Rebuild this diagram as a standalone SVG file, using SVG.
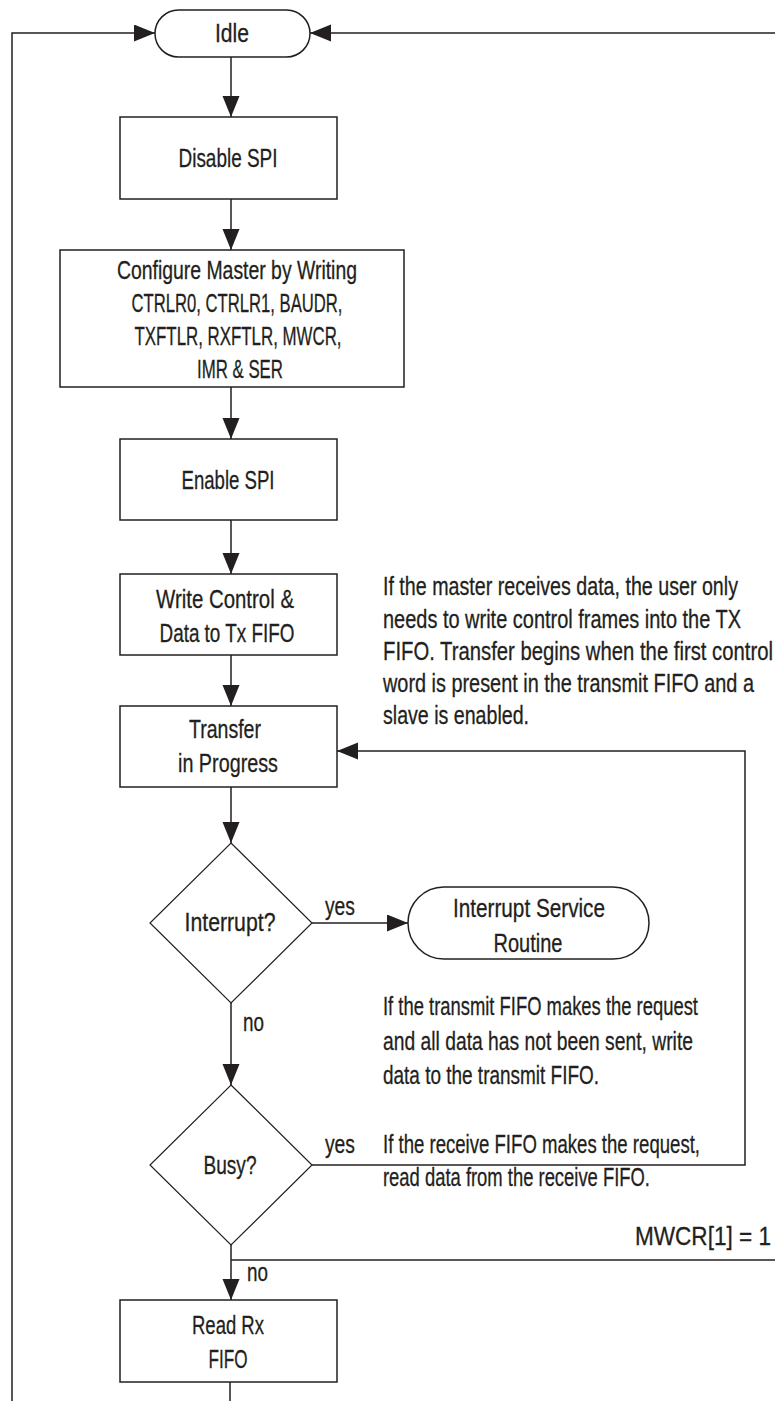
<svg xmlns="http://www.w3.org/2000/svg" width="775" height="1401" viewBox="0 0 775 1401">
<style>
.box{fill:#fff;stroke:#231f20;stroke-width:1.5}
.dia{fill:#fff;stroke:#231f20;stroke-width:1.2}
.ln{fill:none;stroke:#231f20;stroke-width:1.5}
.t{font-family:"Liberation Sans",Arial,sans-serif;font-size:26px;fill:#231f20;stroke:#231f20;stroke-width:0.3;text-anchor:middle}
.n{font-family:"Liberation Sans",Arial,sans-serif;font-size:26px;fill:#231f20;stroke:#231f20;stroke-width:0.3;text-anchor:start}
</style>
<defs>
<marker id="ah" markerUnits="userSpaceOnUse" markerWidth="22" markerHeight="18" refX="21" refY="8.5" orient="auto">
<path d="M0,0 L21,8.5 L0,17 z" fill="#231f20"/>
</marker>
</defs>
<rect width="775" height="1401" fill="#fff"/>
<g id="connectors">
<path class="ln" d="M12,1401 V33 H155" marker-end="url(#ah)"/>
<path class="ln" d="M775,33 H310" marker-end="url(#ah)"/>
<path class="ln" d="M231,57 V117" marker-end="url(#ah)"/>
<path class="ln" d="M231,199 V250" marker-end="url(#ah)"/>
<path class="ln" d="M231,387 V439" marker-end="url(#ah)"/>
<path class="ln" d="M231,520 V574" marker-end="url(#ah)"/>
<path class="ln" d="M231,655 V706" marker-end="url(#ah)"/>
<path class="ln" d="M231,787 V843" marker-end="url(#ah)"/>
<path class="ln" d="M312,923 H408" marker-end="url(#ah)"/>
<path class="ln" d="M231,1003 V1085" marker-end="url(#ah)"/>
<path class="ln" d="M312,1165 H745 V751 H337" marker-end="url(#ah)"/>
<path class="ln" d="M231,1245 V1300" marker-end="url(#ah)"/>
<path class="ln" d="M231,1260 H775"/>
<path class="ln" d="M230,1382 V1401"/>
</g>
<g id="idle">
<rect class="box" x="155" y="10" width="155" height="47" rx="23.5"/>
<text class="t" transform="scale(0.75,1)" x="309.33" y="42" textLength="45.33" lengthAdjust="spacingAndGlyphs">Idle</text>
</g>
<g id="disable-spi">
<rect class="box" x="120" y="117" width="217" height="82"/>
<text class="t" transform="scale(0.75,1)" x="304" y="167" textLength="132" lengthAdjust="spacingAndGlyphs">Disable SPI</text>
</g>
<g id="configure">
<rect class="box" x="60" y="250" width="344" height="137"/>
<text class="t" transform="scale(0.75,1)" x="316" y="279" textLength="320" lengthAdjust="spacingAndGlyphs">Configure Master by Writing</text>
<text class="t" transform="scale(0.75,1)" x="316" y="312" textLength="281.33" lengthAdjust="spacingAndGlyphs">CTRLR0, CTRLR1, BAUDR,</text>
<text class="t" transform="scale(0.75,1)" x="317.33" y="345" textLength="276" lengthAdjust="spacingAndGlyphs">TXFTLR, RXFTLR, MWCR,</text>
<text class="t" transform="scale(0.75,1)" x="320" y="378" textLength="114.67" lengthAdjust="spacingAndGlyphs">IMR &amp; SER</text>
</g>
<g id="enable-spi">
<rect class="box" x="120" y="439" width="217" height="81"/>
<text class="t" transform="scale(0.75,1)" x="304" y="489" textLength="124" lengthAdjust="spacingAndGlyphs">Enable SPI</text>
</g>
<g id="write-control">
<rect class="box" x="120" y="574" width="217" height="81"/>
<text class="t" transform="scale(0.75,1)" x="300" y="608" textLength="184" lengthAdjust="spacingAndGlyphs">Write Control &amp;</text>
<text class="t" transform="scale(0.75,1)" x="302.67" y="642" textLength="180" lengthAdjust="spacingAndGlyphs">Data to Tx FIFO</text>
</g>
<g id="transfer">
<rect class="box" x="120" y="706" width="217" height="81"/>
<text class="t" transform="scale(0.75,1)" x="300" y="738" textLength="96" lengthAdjust="spacingAndGlyphs">Transfer</text>
<text class="t" transform="scale(0.75,1)" x="304" y="772" textLength="133.33" lengthAdjust="spacingAndGlyphs">in Progress</text>
</g>
<g id="interrupt">
<polygon class="dia" points="231,843 312,923 231,1003 150,923"/>
<text class="t" transform="scale(0.75,1)" x="306.67" y="931" textLength="121.33" lengthAdjust="spacingAndGlyphs">Interrupt?</text>
</g>
<g id="isr">
<rect class="box" x="408" y="887" width="241" height="72" rx="36"/>
<text class="t" transform="scale(0.75,1)" x="705.33" y="917" textLength="202.67" lengthAdjust="spacingAndGlyphs">Interrupt Service</text>
<text class="t" transform="scale(0.75,1)" x="704" y="952" textLength="92" lengthAdjust="spacingAndGlyphs">Routine</text>
</g>
<g id="busy">
<polygon class="dia" points="231,1085 312,1165 231,1245 150,1165"/>
<text class="t" transform="scale(0.75,1)" x="306.67" y="1174" textLength="70.67" lengthAdjust="spacingAndGlyphs">Busy?</text>
</g>
<g id="read-rx">
<rect class="box" x="120" y="1300" width="217" height="82"/>
<text class="t" transform="scale(0.75,1)" x="304" y="1334" textLength="96" lengthAdjust="spacingAndGlyphs">Read Rx</text>
<text class="t" transform="scale(0.75,1)" x="304" y="1368" textLength="52" lengthAdjust="spacingAndGlyphs">FIFO</text>
</g>
<g id="labels">
<text class="n" transform="scale(0.75,1)" x="433.33" y="915" textLength="40" lengthAdjust="spacingAndGlyphs">yes</text>
<text class="n" transform="scale(0.75,1)" x="324" y="1031" textLength="28" lengthAdjust="spacingAndGlyphs">no</text>
<text class="n" transform="scale(0.75,1)" x="433.33" y="1153" textLength="40" lengthAdjust="spacingAndGlyphs">yes</text>
<text class="n" transform="scale(0.75,1)" x="329.33" y="1281" textLength="28" lengthAdjust="spacingAndGlyphs">no</text>
<text class="n" transform="scale(0.75,1)" x="846.67" y="1245" textLength="181.33" lengthAdjust="spacingAndGlyphs">MWCR[1] = 1</text>
</g>
<g id="note-master">
<text class="n" transform="scale(0.75,1)" x="510.67" y="595" textLength="473.33" lengthAdjust="spacingAndGlyphs">If the master receives data, the user only</text>
<text class="n" transform="scale(0.75,1)" x="510.67" y="628" textLength="477.33" lengthAdjust="spacingAndGlyphs">needs to write control frames into the TX</text>
<text class="n" transform="scale(0.75,1)" x="510.67" y="660" textLength="520" lengthAdjust="spacingAndGlyphs">FIFO. Transfer begins when the first control</text>
<text class="n" transform="scale(0.75,1)" x="510.67" y="692" textLength="494.67" lengthAdjust="spacingAndGlyphs">word is present in the transmit FIFO and a</text>
<text class="n" transform="scale(0.75,1)" x="510.67" y="724" textLength="194.67" lengthAdjust="spacingAndGlyphs">slave is enabled.</text>
</g>
<g id="note-transmit">
<text class="n" transform="scale(0.75,1)" x="510.67" y="1015" textLength="420" lengthAdjust="spacingAndGlyphs">If the transmit FIFO makes the request</text>
<text class="n" transform="scale(0.75,1)" x="510.67" y="1050" textLength="413.33" lengthAdjust="spacingAndGlyphs">and all data has not been sent, write</text>
<text class="n" transform="scale(0.75,1)" x="510.67" y="1084" textLength="288" lengthAdjust="spacingAndGlyphs">data to the transmit FIFO.</text>
</g>
<g id="note-receive">
<text class="n" transform="scale(0.75,1)" x="510.67" y="1153" textLength="422.67" lengthAdjust="spacingAndGlyphs">If the receive FIFO makes the request,</text>
<text class="n" transform="scale(0.75,1)" x="510.67" y="1186" textLength="356" lengthAdjust="spacingAndGlyphs">read data from the receive FIFO.</text>
</g>
</svg>
